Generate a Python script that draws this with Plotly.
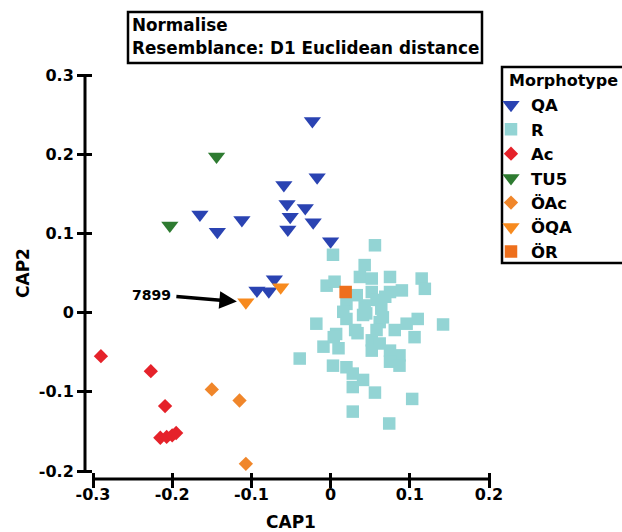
import plotly.graph_objects as go

# ---- data ----
qa_x = [-0.023, -0.017, -0.059, -0.055, -0.032, -0.051, -0.022, -0.054, -0.165, -0.143, -0.112, 0.000, -0.071, -0.093, -0.078]
qa_y = [0.242, 0.171, 0.161, 0.137, 0.132, 0.121, 0.114, 0.105, 0.124, 0.102, 0.117, 0.090, 0.042, 0.028, 0.027]

r_x = [0.056, 0.003, 0.043, 0.037, 0.052, 0.075, 0.115, 0.119, -0.005, 0.005, 0.075, 0.090, 0.052,
       0.020, 0.043, 0.064, -0.018, 0.020, 0.041, 0.062, 0.096, 0.110, 0.142, 0.007, 0.031,
       0.052, 0.106, -0.009, 0.010, -0.039, 0.075, 0.087, 0.075, 0.087, 0.003, 0.020, 0.028, 0.041,
       0.028, 0.056, 0.103, 0.028, 0.074, 0.033, 0.058, 0.045, 0.066, 0.016, 0.004, 0.034, 0.058,
       0.069, 0.062, 0.081, 0.052]
r_y = [0.085, 0.073, 0.060, 0.045, 0.043, 0.045, 0.043, 0.030, 0.034, 0.039, 0.026, 0.028, 0.026,
       0.011, 0.009, 0.005, -0.014, -0.008, -0.003, -0.012, -0.014, -0.008, -0.015, -0.027, -0.022,
       -0.035, -0.031, -0.043, -0.045, -0.058, -0.048, -0.054, -0.062, -0.067, -0.067, -0.069, -0.077, -0.085,
       -0.094, -0.101, -0.109, -0.125, -0.140, 0.022, 0.016, -0.001, -0.006, 0.001, -0.031, -0.026, -0.022,
       0.020, -0.039, -0.022, -0.048]

ac_x = [-0.290, -0.227, -0.209, -0.215, -0.207, -0.200, -0.195]
ac_y = [-0.055, -0.074, -0.118, -0.158, -0.157, -0.155, -0.152]

tu5_x = [-0.144, -0.203]
tu5_y = [0.197, 0.110]

oac_x = [-0.150, -0.115, -0.107]
oac_y = [-0.097, -0.111, -0.191]

oqa_x = [-0.107, -0.063]
oqa_y = [0.013, 0.032]

or_x = [0.019]
or_y = [0.026]

x_ticks = [-0.3, -0.2, -0.1, 0, 0.1, 0.2]
x_tick_text = ["-0.3", "-0.2", "-0.1", "0", "0.1", "0.2"]
y_ticks = [-0.2, -0.1, 0, 0.1, 0.2, 0.3]
y_tick_text = ["-0.2", "-0.1", "0", "0.1", "0.2", "0.3"]

label_pt = (oqa_x[0], oqa_y[0])
label_text = "7899"
title_lines = ["Normalise", "Resemblance: D1 Euclidean distance"]
legend_title = "Morphotype"

# ---- figure ----
W, H = 622, 532
FONT = "DejaVu Sans, Liberation Sans, Arial, sans-serif"


def px(x):
    return x / W


def py(y):
    return (H - y) / H


series = [
    ("QA", qa_x, qa_y, "triangle-down", "#2a43b2", 15),
    ("R", r_x, r_y, "square", "#93d4d4", 12.5),
    ("Ac", ac_x, ac_y, "diamond", "#e5222a", 11),
    ("TU5", tu5_x, tu5_y, "triangle-down", "#2e7b31", 15),
    ("ÖAc", oac_x, oac_y, "diamond", "#f0862a", 11),
    ("ÖQA", oqa_x, oqa_y, "triangle-down", "#f78a1e", 15),
    ("ÖR", or_x, or_y, "square", "#ee6f1c", 12.5),
]

fig = go.Figure()
for name, xs, ys, sym, col, sz in series:
    fig.add_trace(go.Scatter(
        x=xs, y=ys, mode="markers", name=name, cliponaxis=False,
        marker=dict(symbol=sym, color=col, size=sz, line=dict(width=0)),
    ))

# plot area and detached axes (range-frame style with crossing ticks)
AX_Y_LINE = 85   # px position of the vertical axis line
AX_X_LINE = 479  # px position of the horizontal axis line
HALF_IN = 7      # inner half of the crossing ticks
xdom = [px(93), px(489)]
ydom = [py(471), py(75)]

LW = 3
tickfont = dict(size=16, family=FONT, color="black", weight="bold")
axis_common = dict(showgrid=False, zeroline=False, showline=False, automargin=False,
                   tickcolor="black", tickwidth=LW, ticklen=15, ticks="outside",
                   tickmode="array", tickfont=tickfont)

fig.update_layout(
    width=W, height=H,
    margin=dict(l=0, r=0, t=0, b=0, autoexpand=False),
    paper_bgcolor="white", plot_bgcolor="white",
    font=dict(family=FONT, color="black", weight="bold"),
    xaxis=dict(domain=xdom, range=[-0.3, 0.2], anchor="free", position=py(AX_X_LINE - HALF_IN),
               tickvals=x_ticks, ticktext=x_tick_text, ticklabelstandoff=-7,
               title=dict(text="CAP1", font=dict(size=17, family=FONT, weight="bold"), standoff=21),
               **axis_common),
    yaxis=dict(domain=ydom, range=[-0.2, 0.3], anchor="free", position=px(AX_Y_LINE + HALF_IN),
               tickvals=y_ticks, ticktext=y_tick_text,
               title=dict(text="CAP2", font=dict(size=17, family=FONT, weight="bold"), standoff=3),
               **axis_common),
    legend=dict(x=px(491), y=py(87.5), xanchor="left", yanchor="top",
                borderwidth=0, bgcolor="rgba(0,0,0,0)",
                font=dict(size=16.5, family=FONT, color="black", weight="bold"),
                tracegroupgap=0),
    showlegend=True,
)

# axis lines
fig.add_shape(type="line", xref="paper", yref="paper", x0=px(AX_Y_LINE), x1=px(AX_Y_LINE),
              y0=ydom[0], y1=ydom[1], line=dict(color="black", width=LW))
fig.add_shape(type="line", xref="paper", yref="paper", x0=xdom[0], x1=xdom[1],
              y0=py(AX_X_LINE), y1=py(AX_X_LINE), line=dict(color="black", width=LW))

# legend frame and legend title
fig.add_shape(type="rect", xref="paper", yref="paper", x0=px(502), x1=px(640), y0=py(263), y1=py(67),
              line=dict(color="black", width=2.5), layer="below")
fig.add_annotation(xref="paper", yref="paper", x=px(507), y=py(80), xanchor="left", yanchor="middle",
                   text=legend_title, showarrow=False,
                   font=dict(size=16, family=FONT, color="black", weight="bold"))

# title box
fig.add_shape(type="rect", xref="paper", yref="paper", x0=px(128), x1=px(482), y0=py(63), y1=py(12),
              line=dict(color="black", width=2.5))
for i, line in enumerate(title_lines):
    fig.add_annotation(xref="paper", yref="paper", x=px(130), y=py(25 + 23 * i),
                       xanchor="left", yanchor="middle", text=line, showarrow=False,
                       font=dict(size=16.8, family=FONT, color="black", weight="bold"))

# arrow to the labelled point
fig.add_annotation(
    x=label_pt[0], y=label_pt[1], xref="x", yref="y", text="", showarrow=True,
    ax=-71, ay=-6, axref="pixel", ayref="pixel", arrowhead=2, arrowsize=1,
    arrowwidth=3.5, arrowcolor="black", standoff=9,
)
fig.add_annotation(
    x=label_pt[0], y=label_pt[1], xref="x", yref="y", text=label_text, showarrow=False,
    xshift=-94, yshift=7, font=dict(size=14, family=FONT, color="black", weight="bold"),
)

fig.write_html("out.html", config={"displayModeBar": False},
               post_script="document.body.style.margin='0';")
